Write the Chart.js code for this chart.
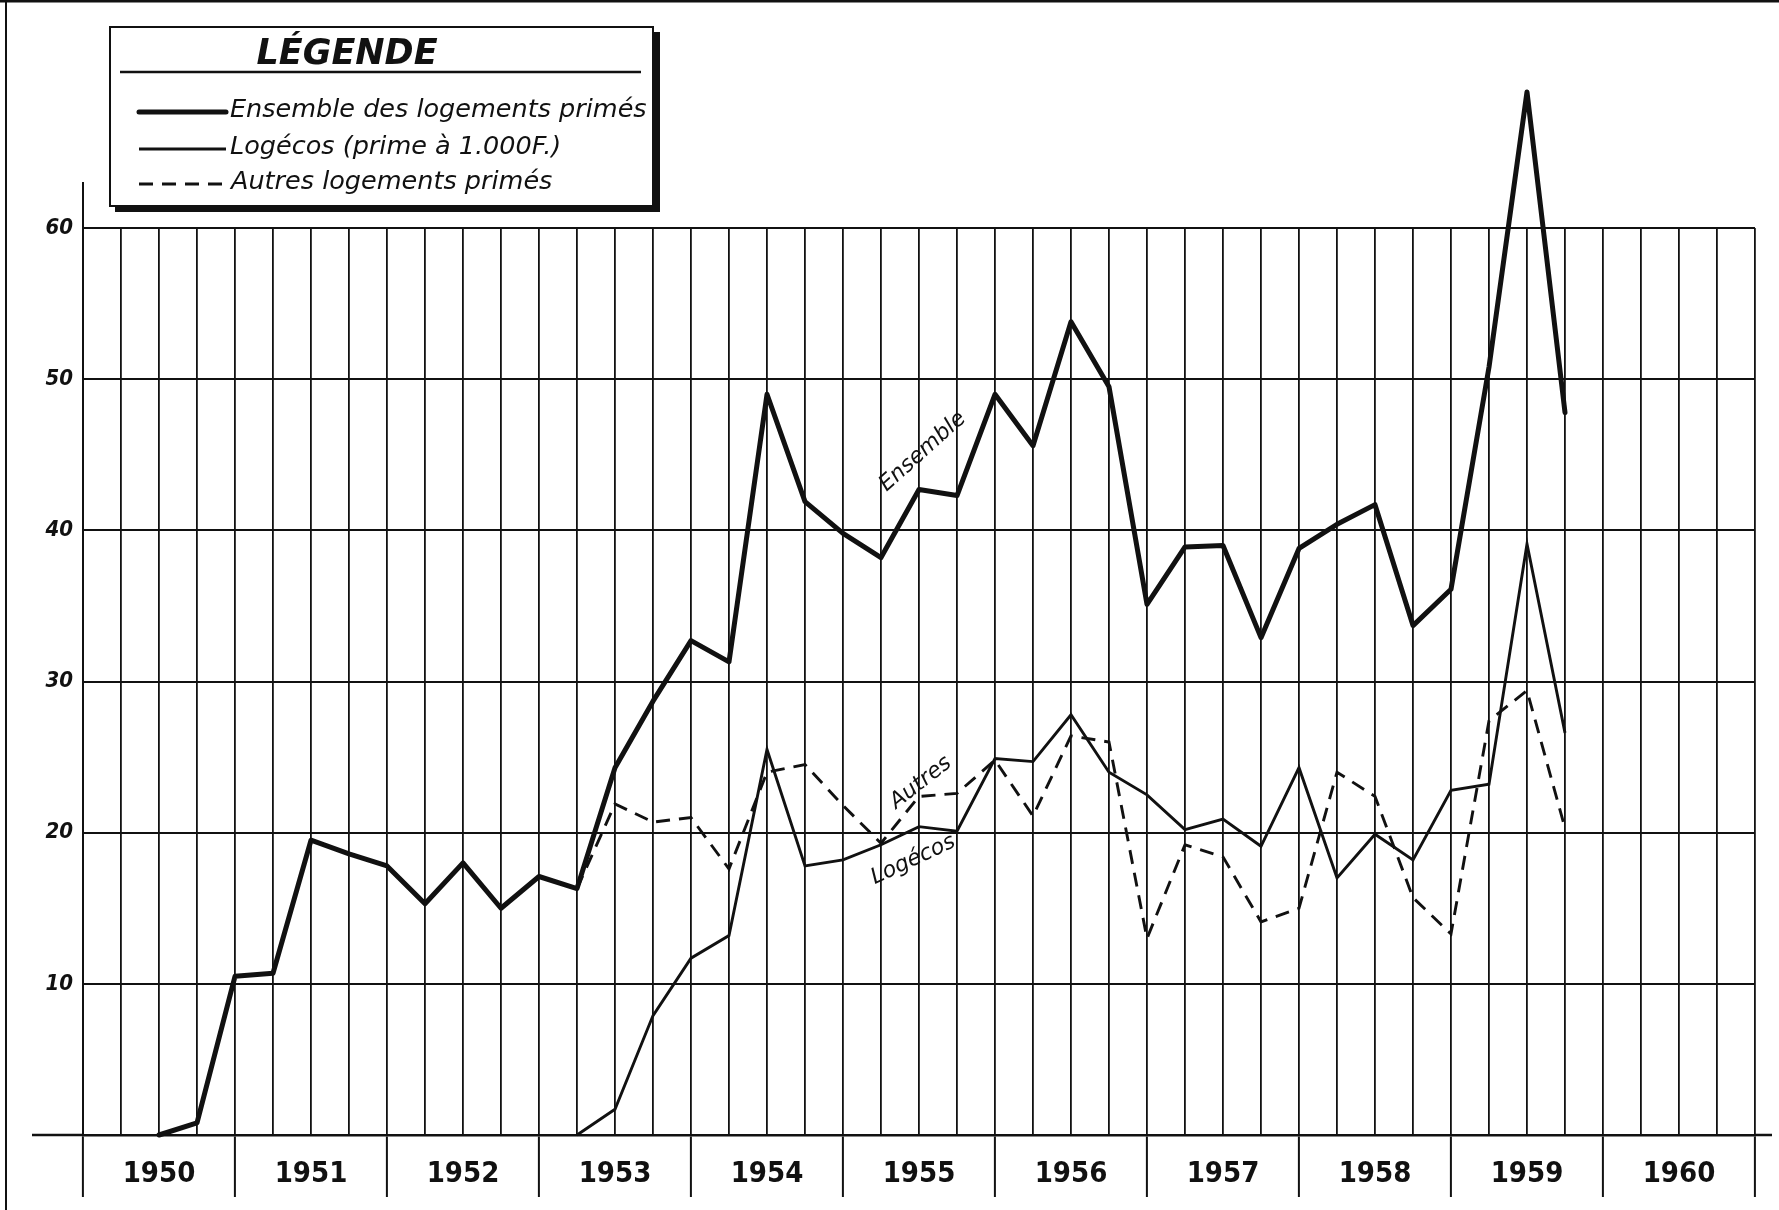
<!DOCTYPE html>
<html><head><meta charset="utf-8">
<script src="https://cdn.jsdelivr.net/npm/chart.js@4.4.1/dist/chart.umd.min.js"></script>
<style>html,body{margin:0;padding:0;background:#fff}#wrap{width:1779px;height:1210px;position:relative;background:#fff}</style>
</head><body><div id="wrap"><canvas id="c" width="1779" height="1210"></canvas></div>
<script>
// ---- data (quarter index 0 = start of 1950, 44 = end of 1960) ----
const yearLabels = ['1950','1951','1952','1953','1954','1955','1956','1957','1958','1959','1960'];
const seriesNames = ['Ensemble des logements primés', 'Logécos (prime à 1.000F.)', 'Autres logements primés'];
const ensembleStart = 2;
const ensemble = [0, 0.8, 10.5, 10.7, 19.5, 18.6, 17.8, 15.3, 18.0, 15.0, 17.1, 16.3, 24.3, 28.7, 32.7, 31.3, 49.0, 41.9, 39.8, 38.2, 42.7, 42.3, 49.0, 45.6, 53.8, 49.5, 35.1, 38.9, 39.0, 32.9, 38.8, 40.4, 41.7, 33.7, 36.1, 50.8, 69.0, 47.8];
const logecosStart = 13;
const logecos = [0, 1.7, 7.9, 11.7, 13.2, 25.5, 17.8, 18.2, 19.2, 20.4, 20.1, 24.9, 24.7, 27.8, 24.0, 22.5, 20.2, 20.9, 19.1, 24.3, 17.0, 19.9, 18.2, 22.8, 23.2, 39.1, 26.6];
const autresStart = 13;
const autres = [16.3, 21.9, 20.7, 21.0, 17.6, 24.0, 24.5, 21.8, 19.3, 22.4, 22.6, 24.8, 21.1, 26.4, 26.0, 13.0, 19.2, 18.4, 14.1, 15.0, 24.0, 22.4, 15.7, 13.3, 27.4, 29.4, 20.3];
const curveLabels = [
  {text: 'Ensemble', q: 22.1, v: 45.2, angle: -42},
  {text: 'Autres', q: 22.05, v: 23.3, angle: -38},
  {text: 'Logécos', q: 21.85, v: 18.2, angle: -25}
];

const toPoints = (start, arr) => arr.map((v, i) => ({x: start + i, y: v}));
const INK = '#111111';
const NARROW = "'Liberation Sans Narrow', 'DejaVu Sans Condensed', sans-serif";
const HAND = "'DejaVu Sans', sans-serif";

const decor = {
  id: 'decor',
  beforeDatasetsDraw(chart) {
    const {ctx, chartArea: a} = chart;
    const zeroY = chart.scales.y.getPixelForValue(0);
    ctx.save();
    ctx.strokeStyle = INK;
    ctx.fillStyle = INK;
    ctx.fillRect(0, 0, chart.width, 2.5);
    ctx.fillRect(5, 0, 2, chart.height);
    ctx.lineWidth = 2;
    ctx.beginPath();
    ctx.moveTo(a.left, a.top); ctx.lineTo(a.left, 182);
    ctx.stroke();
    ctx.lineWidth = 2.5;
    ctx.beginPath();
    ctx.moveTo(32, zeroY); ctx.lineTo(a.left, zeroY);
    ctx.moveTo(a.right, zeroY); ctx.lineTo(1772, zeroY);
    ctx.stroke();
    ctx.restore();
  }
};

const legendBox = {
  id: 'legendBox',
  afterDraw(chart) {
    const ctx = chart.ctx;
    ctx.save();
    ctx.fillStyle = '#fff';
    ctx.fillRect(110, 27, 543, 179);
    ctx.fillStyle = INK;
    ctx.fillRect(115, 205, 545, 7);
    ctx.fillRect(653, 32, 7, 180);
    ctx.strokeStyle = INK;
    ctx.lineWidth = 2;
    ctx.strokeRect(110, 27, 543, 179);
    ctx.fillStyle = INK;
    ctx.textAlign = 'center';
    ctx.textBaseline = 'middle';
    ctx.font = "italic bold 35px " + HAND;
    ctx.fillText('LÉGENDE', 347, 55);
    ctx.lineWidth = 2.5;
    ctx.beginPath(); ctx.moveTo(120, 72); ctx.lineTo(641, 72); ctx.stroke();
    const rows = [110, 147, 182];
    chart.data.datasets.forEach((ds, i) => {
      const y = rows[i];
      ctx.save();
      ctx.lineWidth = ds.borderWidth;
      ctx.setLineDash(ds.borderDash || []);
      ctx.lineCap = i === 0 ? 'round' : 'butt';
      ctx.beginPath(); ctx.moveTo(139, y + 2); ctx.lineTo(226, y + 2); ctx.stroke();
      ctx.restore();
      ctx.textAlign = 'left';
      ctx.font = "italic 25.5px " + HAND;
      ctx.fillText(ds.label, i === 2 ? 231 : 230, y);
    });
    ctx.restore();
  }
};

const curveText = {
  id: 'curveText',
  afterDatasetsDraw(chart) {
    const {ctx, scales} = chart;
    ctx.save();
    ctx.fillStyle = INK;
    ctx.font = "italic 22px " + HAND;
    ctx.textAlign = 'center';
    ctx.textBaseline = 'middle';
    curveLabels.forEach(l => {
      ctx.save();
      ctx.translate(scales.x.getPixelForValue(l.q), scales.y.getPixelForValue(l.v));
      ctx.rotate(l.angle * Math.PI / 180);
      ctx.fillText(l.text, 0, 0);
      ctx.restore();
    });
    ctx.restore();
  }
};

new Chart(document.getElementById('c'), {
  type: 'line',
  data: {
    datasets: [
      {label: seriesNames[0], data: toPoints(ensembleStart, ensemble), borderColor: INK, borderWidth: 5, borderJoinStyle: 'round', borderCapStyle: 'round', clip: false},
      {label: seriesNames[1], data: toPoints(logecosStart, logecos), borderColor: INK, borderWidth: 2.9, clip: false},
      {label: seriesNames[2], data: toPoints(autresStart, autres), borderColor: INK, borderWidth: 2.9, borderDash: [14, 9], clip: false}
    ]
  },
  options: {
    responsive: false,
    animation: false,
    devicePixelRatio: 1,
    layout: {padding: {top: 228, right: 24, left: 0, bottom: 0}},
    elements: {point: {radius: 0}, line: {tension: 0}},
    plugins: {legend: {display: false}, tooltip: {enabled: false}},
    scales: {
      x: {
        type: 'linear', min: 0, max: 44,
        afterFit(s) { s.height = 75; },
        grid: {
          color: INK, lineWidth: 1.8, drawTicks: true, tickLength: 62, tickWidth: 2,
          tickColor: c => (c.tick && c.tick.value % 4 === 0) ? INK : 'rgba(0,0,0,0)'
        },
        border: {display: true, color: INK, width: 2.5},
        ticks: {
          stepSize: 1, autoSkip: false, maxRotation: 0, minRotation: 0, padding: -40, color: INK,
          font: {family: NARROW, size: 29, weight: 'bold'},
          callback: v => (v % 4 === 2) ? yearLabels[(v - 2) / 4] : ''
        }
      },
      y: {
        min: 0, max: 60,
        afterFit(s) { s.width = 83; },
        grid: {color: INK, lineWidth: 2, drawTicks: false},
        border: {display: true, color: INK, width: 2},
        ticks: {
          stepSize: 10, padding: 10, color: INK,
          font: {family: NARROW, size: 22, weight: 'bold', style: 'italic'},
          callback: v => v === 0 ? '' : String(v)
        }
      }
    }
  },
  plugins: [decor, legendBox, curveText]
});
</script>
</body></html>
